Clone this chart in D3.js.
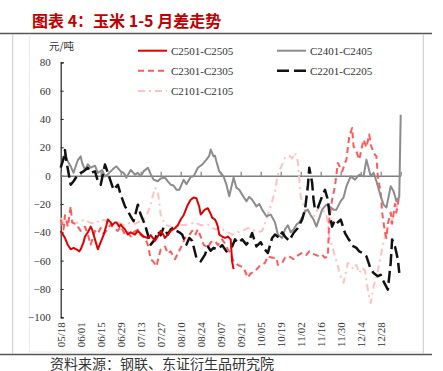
<!DOCTYPE html>
<html><head><meta charset="utf-8">
<script src="https://cdn.jsdelivr.net/npm/d3@7/dist/d3.min.js"></script>
<style>
html,body{margin:0;padding:0;background:#fff;}
svg{display:block;}
</style></head>
<body>
<svg id="c" width="443" height="371"></svg>
<script>
// ---- data (day offset from 05/18, value in 元/吨) ----
const tickLabels = ["05/18","06/01","06/15","06/29","07/13","07/27","08/10","08/24","09/07","09/21","10/05","10/19","11/02","11/16","11/30","12/14","12/28"];
const tickDays = [0,14,28,42,56,70,84,98,112,126,140,154,168,182,196,210,224,238];
const seriesNames = ["C2501-C2505","C2401-C2405","C2301-C2305","C2201-C2205","C2101-C2105"];

const c2501 = [[0,-39],[3,-44],[5,-49],[7,-52],[9,-51],[11,-52],[13,-53.5],[14,-52],[16,-47],[17,-43],[19,-40],[21,-36],[22,-38],[24,-45],[26,-52],[28,-47],[30,-42],[32,-35],[33,-31],[35,-33],[36,-35],[38,-33],[39,-33],[41,-36],[42,-34.5],[44,-37],[45,-38],[47,-41.6],[49,-40],[52,-41.6],[54,-39],[56,-41],[58,-43],[61,-44],[63,-42],[66,-46],[68,-43],[70,-39],[72,-42],[73,-44],[75,-41.6],[77,-39],[80,-37],[82,-35],[84,-31],[86,-28],[88,-23],[89,-20.5],[91,-17],[93,-15.5],[95,-16],[97,-22],[98,-27.5],[100,-25],[101,-24],[103,-23],[105,-27],[106,-29.6],[108,-31],[109,-33],[110,-36],[111,-41.6],[113,-43],[115,-44],[117,-43],[119,-45],[120,-60.7],[121,-66]];

const c2401 = [[0,6.6],[2,12],[3,15],[5,10],[7,6.6],[9,2],[11,8],[12,11],[14,13.6],[15,9],[17,4],[19,8],[21,5.6],[24,7],[26,2],[29,4],[31,-0.5],[33,1],[35,3],[37,5],[39,6.6],[42,3],[44,2],[46,-1.4],[49,4],[52,0.7],[54,2],[56,-0.5],[58,3],[61,5.6],[63,1],[65,-2.8],[68,-4],[70,-2],[73,-1.4],[75,-4],[77,-6.4],[79,-7],[81,-9.9],[83,-10],[86,-3],[88,-6],[91,-1],[93,-0.5],[96,5.6],[99,7.8],[102,11.3],[104,14],[105,18.4],[107,13.6],[108,14],[109,10],[111,3],[114,-0.5],[116,-6.4],[118,-14.6],[121,-1.4],[123,-8.5],[125,-10],[127,-13.4],[130,-18],[132,-15],[134,-17],[137,-21.7],[139,-20],[141,-24],[144,-28.7],[147,-27.5],[150,-33],[152,-41.6],[155,-44],[157,-38],[159,-35],[161,-40],[163,-38],[165,-34.6],[167,-33],[169,-29.6],[171,-25],[173,-24],[175,-28],[177,-31],[179,-36],[181,-30],[183,-24],[186,-20.5],[188,-21.7],[191,-24],[193,-24],[196,-18],[198,-15.5],[200,-7.5],[203,-0.5],[206,-2.8],[209,0.7],[212,-0.5],[214,11.3],[217,-0.5],[219,2],[221,-4],[224,-14.6],[226,-20.5],[228,-22.6],[231,-7.5],[233,-11],[235,-18],[237,-15],[238,43]];

const c2301 = [[0,-31],[2,-38],[3,-28],[5,-36],[7,-21.7],[8,-33],[11,-34.6],[14,-39],[17,-36],[19,-41.6],[21,-48.7],[24,-39],[26,-41],[28,-37],[30,-41],[32,-39],[35,-34.6],[37,-37],[40,-39],[42,-36],[45,-41.6],[47,-40],[49,-43],[51,-40],[54,-38],[56,-42],[59,-44],[61,-48.7],[63,-59],[65,-61],[67,-64],[70,-52],[73,-50],[75,-55],[77,-53.5],[80,-59],[82,-55],[85,-49],[87,-44],[90,-42],[92,-39],[94,-42],[96,-38],[98,-43],[100,-48.7],[103,-51],[105,-47],[108,-46],[110,-49],[113,-45],[115,-48],[117,-52],[119,-55],[121,-60.5],[124,-63],[128,-65],[131,-72],[133,-69],[136,-67.5],[139,-64],[143,-61.6],[145,-57],[148,-58],[151,-58],[152,-63],[155,-61.7],[157,-58],[160,-57],[163,-59],[165,-57],[168,-55],[170,-54.4],[172,-56],[174,-53.5],[176,-55],[178,-55.8],[181,-57],[183,-56],[185,-58],[187,-57],[188,-31],[190,-17],[192,-7.5],[194,9],[197,3],[200,11.3],[202,27.7],[204,33.6],[205,20.7],[207,17],[209,11.3],[212,25.4],[214,20],[216,29],[217,22],[219,16],[221,13.6],[222,-0.5],[224,-12],[225,-26],[227,-40],[228,-44],[229,-34],[231,-26],[232,-34],[234,-20],[235,-26],[237,-14]];

const c2201 = [[0,5.6],[2,12],[3,18],[4,10],[7,-6.4],[9,-4],[12,0.7],[14,2],[16,3],[19,5.6],[21,2],[24,3],[26,-4],[28,-6.4],[31,7.8],[33,2],[35,-4],[37,-10],[40,-6.4],[42,-13.4],[45,-21.7],[47,-25],[49,-28.7],[51,-32.2],[54,-20.5],[56,-27.5],[59,-34.6],[61,-41.6],[63,-48.7],[66,-45],[68,-39.3],[70,-42],[72,-36.7],[75,-41.6],[77,-38],[79,-36.7],[81,-39],[83,-40],[85,-41.6],[88,-48.7],[90,-44],[92,-46],[95,-58],[98,-60.5],[101,-55.8],[103,-50],[105,-53],[107,-51],[110,-52],[113,-49],[116,-53.5],[118,-51],[120,-50],[122,-45],[124,-47.5],[127,-45],[130,-48.7],[132,-46],[134,-40.5],[137,-50],[140,-47],[142,-51],[145,-54.6],[148,-44],[150,-41.6],[153,-44],[155,-40],[157,-43],[160,-46],[163,-40.5],[166,-37],[169,-31],[171,-24],[173,-7.5],[174,5.6],[176,-5],[177,-17],[178,-24],[180,-22.6],[183,-14.6],[185,-10],[187,-17],[188,-26],[190,-36],[192,-31],[194,-33],[196,-31],[199,-40.5],[201,-44],[203,-47],[205,-50],[207,-51],[209,-53.5],[212,-55],[214,-57],[217,-66],[219,-68.7],[222,-71],[224,-70],[226,-74.6],[229,-80.5],[231,-61.6],[232,-45],[234,-50],[236,-59],[237,-68.7]];

const c2101 = [[0,-30],[3,-35],[7,-32],[10,-34],[12,-33],[17,-31],[20,-33],[24,-34],[28,-31],[33,-32],[37,-34],[40,-33],[45,-35],[49,-33],[52,-34],[56,-32],[59,-30],[61,-26],[63,-20],[66,-8.5],[68,-11],[70,-27.5],[73,-34.6],[77,-36],[80,-38],[84,-35],[89,-34.6],[94,-33],[98,-35],[103,-34.6],[108,-38],[112,-37],[115,-39],[120,-41.6],[124,-40],[127,-39],[131,-37],[134,-38],[138,-40],[141,-39],[143,-34],[145,-27.5],[148,-18],[150,-11],[152,0.7],[155,7.8],[157,12.5],[160,14],[162,12],[164,16],[166,10],[168,-15],[171,-24],[174,-26],[177,-28.7],[181,-22],[184,-25],[186,-27],[188,-43],[190,-50],[192,-57],[194,-64],[196,-71],[198,-75.6],[201,-61.6],[203,-64],[205,-66],[207,-63],[209,-68.7],[211,-65],[213,-67],[215,-80.5],[217,-90],[219,-78],[221,-72],[223,-62],[225,-52],[228,-38],[230,-35],[232,-31],[235,-24],[237,-12]];

// ---- layout ----
const svg = d3.select("#c");
const serif = "'Liberation Serif','Times New Roman',serif";
const cjk = "'Noto Sans CJK SC','Noto Sans',sans-serif";

const x = d3.scaleLinear().domain([0, 238]).range([60.7, 400.7]);
const y = d3.scaleLinear().domain([-100, 80]).range([317.3, 62.3]);

// frame
svg.append("line").attr("x1",0).attr("x2",432).attr("y1",33.5).attr("y2",33.5).attr("stroke","#555").attr("stroke-width",1.5);
svg.append("line").attr("x1",0).attr("x2",432).attr("y1",354.5).attr("y2",354.5).attr("stroke","#555").attr("stroke-width",1.5);
svg.append("line").attr("x1",12.7).attr("x2",12.7).attr("y1",34).attr("y2",354).attr("stroke","#c8c8c8").attr("stroke-width",1);
svg.append("line").attr("x1",423.3).attr("x2",423.3).attr("y1",34).attr("y2",354).attr("stroke","#c8c8c8").attr("stroke-width",1);
svg.append("line").attr("x1",29.3).attr("x2",29.3).attr("y1",34).attr("y2",352).attr("stroke","#ececec").attr("stroke-width",1);
svg.append("line").attr("x1",29.3).attr("x2",423).attr("y1",352).attr("y2",352).attr("stroke","#ececec").attr("stroke-width",1);

// title
svg.append("text").attr("x",32).attr("y",27).attr("font-family",cjk).attr("font-weight","bold")
  .attr("font-size",16).attr("fill","#c00000").text("图表 4：玉米 1-5 月差走势");
// footer
svg.append("text").attr("x",50).attr("y",368.5).attr("font-family",cjk)
  .attr("font-size",14).attr("fill","#333").text("资料来源：钢联、东证衍生品研究院");

// unit label
svg.append("text").attr("x",49).attr("y",50).attr("font-family",cjk)
  .attr("font-size",10.5).attr("fill","#333").text("元/吨");

// y axis
const yAxis = d3.axisLeft(y).tickValues([80,60,40,20,0,-20,-40,-60,-80,-100]).tickSize(-3).tickPadding(10);
const gy = svg.append("g").attr("transform","translate(60.7,0)").call(yAxis);
gy.select(".domain").attr("stroke","#222").attr("stroke-width",1.2);
gy.selectAll(".tick line").attr("stroke","#222");
gy.selectAll("text").attr("font-family",serif).attr("font-size",11).attr("fill","#333");

// x tick labels at bottom
const gx = svg.append("g").attr("transform","translate(0,"+ (y(-100)) +")")
  .call(d3.axisBottom(x).tickValues(tickDays.slice(0, tickLabels.length)).tickSize(0)
  .tickFormat((d,i)=>tickLabels[i]));
gx.select(".domain").remove();
gx.selectAll("text").attr("font-family",serif).attr("font-size",11).attr("fill","#333")
  .attr("transform","rotate(-90)").attr("text-anchor","end").attr("dx","-5").attr("dy","0.35em").attr("x",0).attr("y",0);

// zero line with ticks
const g0 = svg.append("g").attr("transform","translate(0,"+ y(0) +")")
  .call(d3.axisBottom(x).tickValues(tickDays).tickSizeInner(-4).tickSizeOuter(0).tickFormat(""));
g0.select(".domain").attr("stroke","#7f7f7f").attr("stroke-width",1.5);
g0.selectAll(".tick line").attr("stroke","#7f7f7f").attr("stroke-width",1.2);

// lines
const line = d3.line().x(d=>x(d[0])).y(d=>y(d[1]));
const styles = {
  "C2501-C2505": {data:c2501, color:"#e00000", w:2, dash:null},
  "C2401-C2405": {data:c2401, color:"#8c8c8c", w:2, dash:null},
  "C2301-C2305": {data:c2301, color:"#ff5a5a", w:2, dash:"6,4"},
  "C2201-C2205": {data:c2201, color:"#111", w:2.5, dash:"12,5"},
  "C2101-C2105": {data:c2101, color:"#ffc2c2", w:2, dash:"7,4,2,4"}
};
const drawOrder = ["C2101-C2105","C2301-C2305","C2401-C2405","C2201-C2205","C2501-C2505"];
drawOrder.forEach(n=>{
  const s = styles[n];
  svg.append("path").datum(s.data).attr("d",line).attr("fill","none")
    .attr("stroke",s.color).attr("stroke-width",s.w).attr("stroke-linejoin","round")
    .attr("stroke-dasharray",s.dash);
});

// legend
const legPos = [[138,50.7],[277,50.7],[138,70.7],[277,70.7],[138,91]];
seriesNames.forEach((n,i)=>{
  const s = styles[n]; const p = legPos[i];
  svg.append("line").attr("x1",p[0]).attr("x2",p[0]+29).attr("y1",p[1]).attr("y2",p[1])
    .attr("stroke",s.color).attr("stroke-width",s.w).attr("stroke-dasharray",s.dash);
  svg.append("text").attr("x",p[0]+33).attr("y",p[1]).attr("dy","0.35em")
    .attr("font-family",serif).attr("font-size",11).attr("fill","#333").text(n);
});
</script>
</body></html>
